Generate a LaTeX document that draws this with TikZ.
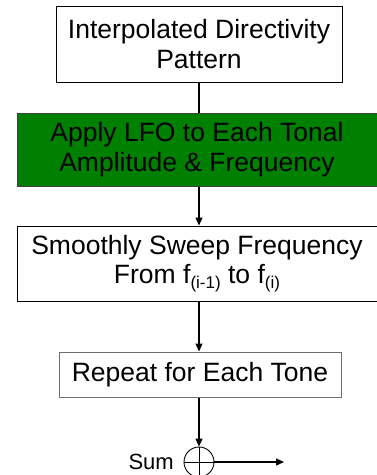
\documentclass[tikz,border=0pt]{standalone}
\usepackage{fontspec}
\setmainfont{Liberation Sans}
\usetikzlibrary{arrows.meta}
\definecolor{boxgreen}{RGB}{0,128,0}
\definecolor{edgegray}{RGB}{64,64,64}
\definecolor{lightedge}{RGB}{110,110,110}
\begin{document}
\begin{tikzpicture}[x=1pt,y=-1pt,
  box/.style={draw=black,line width=1pt,rectangle,align=center,inner sep=0pt,
    font=\fontsize{26.5}{29.5}\selectfont},
  conn/.style={line width=1.2pt,draw=black},
  arr/.style={conn,-{Triangle[length=8pt,width=7pt]}},
  sub/.style={}
]
\useasboundingbox (0,0) rectangle (377,475);
\node[box,minimum width=286pt,minimum height=76pt] (b1) at (199,44)
  {Interpolated Directivity\\Pattern};
\node[box,draw=edgegray,fill=boxgreen,minimum width=360pt,minimum height=73pt] (b2) at (197,149.5)
  {Apply LFO to Each Tonal\\Amplitude \& Frequency};
\node[box,minimum width=360pt,minimum height=75pt] (b3) at (197,263.5)
  {Smoothly Sweep Frequency\\From f\raisebox{-5pt}{\fontsize{17}{17}\selectfont(i-1)} to f\raisebox{-5pt}{\fontsize{17}{17}\selectfont(i)}};
\node[box,draw=lightedge,minimum width=282pt,minimum height=45pt] (b4) at (200,374.5)
  {Repeat for Each Tone};
\node[circle,draw=black,line width=0.9pt,minimum size=30pt,inner sep=0pt] (sum) at (199,462) {};
\draw[line width=0.9pt] (sum.north) -- (sum.south) (sum.west) -- (sum.east);
\node[anchor=base east,inner sep=0pt,font=\fontsize{22}{22}\selectfont] (sumlbl) at (174,469) {Sum};
\coordinate (out) at (284,462);
\draw[conn] (b1.south -| 199,0) -- (199,0 |- b2.north);
\draw[arr] (199,0 |- b2.south) -- (199,0 |- b3.north);
\draw[arr] (199,0 |- b3.south) -- (199,0 |- b4.north);
\draw[arr] (199,0 |- b4.south) -- (sum.north);
\draw[arr] (sum.east) -- (out);
\end{tikzpicture}
\end{document}
